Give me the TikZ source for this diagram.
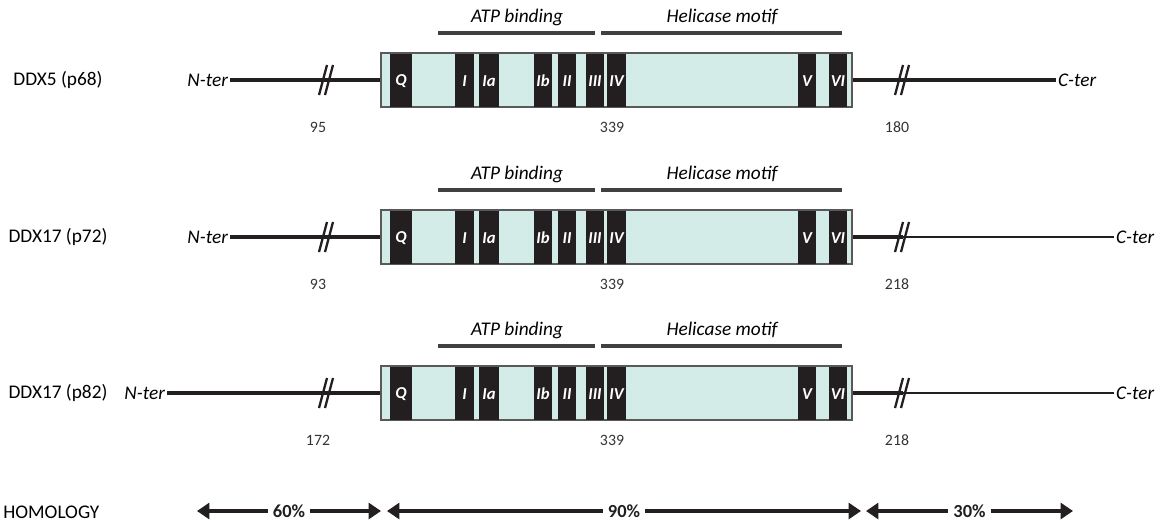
\documentclass[tikz,border=0pt]{standalone}
\usepackage{fontspec}
\setmainfont{Carlito}
\usetikzlibrary{arrows.meta, positioning}
\definecolor{domfill}{HTML}{D3ECE8}
\definecolor{motifblk}{HTML}{231F20}
\definecolor{barcol}{HTML}{404040}

\begin{document}
\begin{tikzpicture}[x=0.02cm, y=-0.02cm,
  font=\fontsize{11}{13}\selectfont,
  prot/.style={line width=2.3pt, motifblk},
  dombox/.style={rectangle, draw=black!65, fill=domfill, line width=0.7pt,
             minimum width=9.42cm, minimum height=1.06cm, inner sep=0pt},
  mlabel/.style={text=white, font=\fontsize{9.5}{11}\selectfont\bfseries\itshape,
             inner sep=0pt},
  term/.style={font=\fontsize{11}{13}\selectfont\itshape, inner sep=1pt},
  num/.style={font=\fontsize{9}{11}\selectfont, text=black!80},
  regbar/.style={line width=2.8pt, barcol},
  brk/.style={line width=1.3pt, motifblk},
  homarr/.style={line width=2.5pt, motifblk,
             {Triangle[length=7pt,width=9pt]}-{Triangle[length=7pt,width=9pt]}},
  pct/.style={fill=white, inner sep=3pt, font=\fontsize{10.5}{12}\selectfont\bfseries},
]
\useasboundingbox (0,0) rectangle (1169,522);

% ---- three proteins ----
\foreach \r/\y/\name/\nx/\nnum/\cx/\cnum/\cw in {%
    1/80/DDX5 (p68)/230/95/1052/180/2.3pt,
    2/237/DDX17 (p72)/230/93/1110/218/1.2pt,
    3/393/DDX17 (p82)/167/172/1110/218/1.2pt}{
  \node (name\r) at (58,\y) {\name};
  \node[term, anchor=east] (nter\r) at (\nx,\y) {N-ter};
  \node[term, anchor=west] (cter\r) at (\cx+4,\y) {C-ter};
  \node[dombox] (dom\r) at (616.5,\y) {};
  \coordinate (nbrk\r) at (327,\y);
  \coordinate (cbrk\r) at (903,\y);
  % backbone
  \draw[prot] (nter\r.east) -- (dom\r.west);
  \draw[prot] (dom\r.east) -- (cbrk\r);
  \draw[line width=\cw, motifblk] (cbrk\r) -- (cter\r.west);
  % breaks
  \foreach \c in {nbrk\r, cbrk\r}{
    \draw[brk] ([shift={(-8,15)}]\c) -- ([shift={(0,-15)}]\c);
    \draw[brk] ([shift={(-2,15)}]\c) -- ([shift={(6,-15)}]\c);
  }
  % conserved motifs
  \foreach \a/\b/\t in {390/412/Q, 455/474/I, 479/499/Ia, 534/552/Ib,
      558/576/II, 586/604/III, 607/626/IV, 798/816/V, 829/847/VI}{
    \fill[motifblk] (\a,\y-26.5) rectangle (\b,\y+26.5);
    \node[mlabel] at ({(\a+\b)/2},\y+1) {\t};
  }
  \draw[black!65, line width=0.7pt] (dom\r.north west) rectangle (dom\r.south east);
  % regions above
  \draw[regbar] (438,\y-47) -- (595,\y-47);
  \draw[regbar] (601,\y-47) -- (842,\y-47);
  \node[term] (atp\r) at (517,\y-63) {ATP binding};
  \node[term] (hel\r) at (722,\y-63) {Helicase motif};
  % lengths
  \node[num] (nnum\r) at (318,\y+47) {\nnum};
  \node[num] (mnum\r) at (612,\y+47) {339};
  \node[num] (cnum\r) at (897,\y+47) {\cnum};
}

% ---- homology ----
\node[anchor=west, inner sep=0pt] (hom) at (3,512) {HOMOLOGY};
\coordinate (h1) at (197,511);
\coordinate (h2) at (381,511);
\coordinate (h3) at (387,511);
\coordinate (h4) at (861,511);
\coordinate (h5) at (866,511);
\coordinate (h6) at (1073,511);
\draw[homarr] (h1) -- (h2) node[pct, midway] {60\%};
\draw[homarr] (h3) -- (h4) node[pct, midway] {90\%};
\draw[homarr] (h5) -- (h6) node[pct, midway] {30\%};

\end{tikzpicture}
\end{document}
